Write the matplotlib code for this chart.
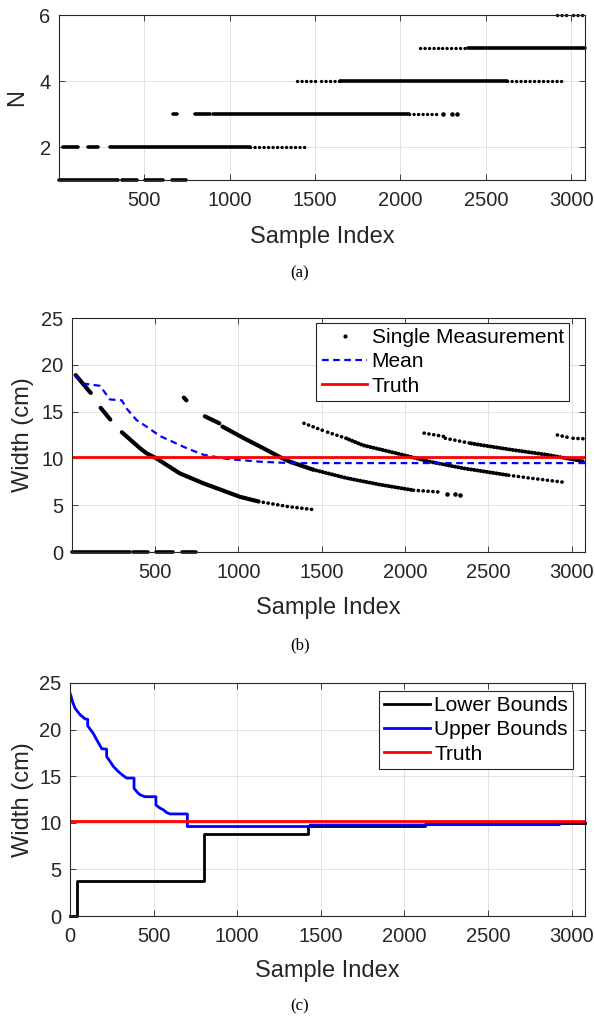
import matplotlib
matplotlib.use('Agg')
import matplotlib.pyplot as plt
from matplotlib.lines import Line2D

plt.rcParams['font.family'] = ['Liberation Sans', 'DejaVu Sans']

# ---------------- data ----------------
x_ticks_ab = [500, 1000, 1500, 2000, 2500, 3000]
x_ticks_c = [0, 500, 1000, 1500, 2000, 2500, 3000]
n_ticks = [2, 4, 6]
w_ticks = [0, 5, 10, 15, 20, 25]
truth_width = 10.15

# Panel (a): sample-index ranges where each count N was reported
n_dense = {
    1: [(1, 348), (368, 459), (504, 608), (660, 744)],
    2: [(23, 114), (173, 231), (300, 1120)],
    3: [(670, 690), (797, 885), (904, 2050)],
    4: [(1646, 2622)],
    5: [(2397, 3080)],
}
n_sparse = {
    2: [(1120, 1441)],
    3: [(2050, 2212)],
    4: [(1393, 1519), (1535, 1646), (2622, 2953)],
    5: [(2114, 2231), (2241, 2397)],
    6: [(2914, 2976), (3008, 3070)],
}
n3_isolated_x = [2251, 2300, 2329]

# Panel (b): single-measurement width tracks (x, y)
w_dense = [
    ([23, 108, 114], [18.9, 17.1, 17.0]),
    ([173, 224, 231], [15.4, 14.3, 14.15]),
    ([300, 408, 448, 508, 648, 788, 1008, 1120], [12.8, 11.1, 10.55, 10.0, 8.4, 7.35, 5.9, 5.4]),
    ([672, 688], [16.5, 16.2]),
    ([798, 868, 885], [14.5, 13.9, 13.75]),
    ([904, 1028, 1148, 1248, 1308, 1448], [13.4, 12.2, 11.1, 10.15, 9.65, 8.8]),
]
w_medium = [
    ([1448, 1648, 1848, 2050], [8.8, 7.9, 7.2, 6.6]),
    ([1646, 1748, 1948, 2148, 2348, 2548, 2622], [12.15, 11.4, 10.55, 9.65, 8.95, 8.4, 8.2]),
    ([2397, 2448, 2648, 2848, 3080], [11.6, 11.45, 10.9, 10.4, 9.65]),
]
w_sparse = [
    ([1120, 1298, 1441], [5.4, 4.85, 4.55]),
    ([2050, 2212], [6.6, 6.4]),
    ([1393, 1519], [13.75, 12.9]),
    ([1535, 1646], [12.8, 12.15]),
    ([2622, 2748, 2953], [8.2, 7.9, 7.45]),
    ([2114, 2231], [12.7, 12.35]),
    ([2241, 2397], [12.15, 11.6]),
    ([2914, 2976], [12.5, 12.25]),
    ([3008, 3070], [12.15, 12.1]),
]
w_isolated_x = [2251, 2300, 2329]
w_isolated_y = [6.25, 6.15, 6.1]

mean_x = [20, 68, 170, 228, 300, 330, 388, 448, 528, 688, 788, 928, 1128, 1308, 3080]
mean_y = [18.9, 18.0, 17.75, 16.3, 16.2, 15.3, 14.1, 13.4, 12.4, 11.1, 10.4, 9.95, 9.65, 9.5, 9.5]

# Panel (c): bounds
upper_x = [0, 6, 15, 30, 60, 90, 106, 106, 139, 160, 179, 190, 219, 219, 235, 259, 289, 319, 339,
           383, 383, 403, 419, 449, 514, 514, 538, 558, 578, 598, 702, 702, 1436, 1436,
           2133, 2133, 2931, 2931, 3080]
upper_y = [23.9, 23.6, 23.0, 22.3, 21.6, 21.15, 21.1, 20.4, 19.6, 18.9, 18.3, 17.95, 17.9, 17.1, 16.7,
           16.05, 15.5, 15.05, 14.8, 14.8, 13.7, 13.26, 13.0, 12.8, 12.8, 11.9, 11.58, 11.4, 11.1,
           10.95, 10.95, 9.6, 9.6, 9.75, 9.75, 9.88, 9.88, 10.0, 10.0]
lower_x = [0, 40, 801, 1425, 2125, 2925, 3080]
lower_y = [0, 3.8, 8.8, 9.7, 9.85, 9.95, 9.95]

# ---------------- style ----------------
W, H = 595, 1023
TXT = '#262626'
GRID = '#e2e2e2'
fig = plt.figure(figsize=(W / 100, H / 100), dpi=100)


def rect(l, t, r, b):
    return [l / W, 1 - b / H, (r - l) / W, (b - t) / H]


def style(ax):
    for s in ax.spines.values():
        s.set_color(TXT)
        s.set_linewidth(0.8)
    ax.tick_params(direction='in', top=True, right=True, length=4, width=0.6,
                   colors=TXT, labelsize=14.5)
    ax.tick_params(axis='x', pad=8)
    ax.tick_params(axis='y', pad=6)
    ax.grid(True, color=GRID, lw=0.7)
    ax.set_axisbelow(True)


def fx(px):
    return px / W


def fy(py):
    return 1 - py / H


LBL = 17
CAP = 12
DOT_LW = 2.6
SPARSE = (0, (0.05, 1.3))
MEDIUM = (0, (0.05, 0.75))
SERIF = ['Liberation Serif', 'DejaVu Serif']

# ---------------- (a) ----------------
ax1 = fig.add_axes(rect(59, 15, 585, 180))
for n, segs in n_dense.items():
    for s, e in segs:
        ax1.plot([s, e], [n, n], color='k', lw=DOT_LW, solid_capstyle='round', clip_on=False)
for n, segs in n_sparse.items():
    for s, e in segs:
        ax1.plot([s, e], [n, n], color='k', lw=2.4, ls=SPARSE, dash_capstyle='round', clip_on=False)
ax1.plot(n3_isolated_x, [3] * len(n3_isolated_x), 'k.', ms=4.5, ls='none')
ax1.set_xlim(1, 3080)
ax1.set_ylim(1, 6)
ax1.set_xticks(x_ticks_ab)
ax1.set_yticks(n_ticks)
style(ax1)
fig.text(fx(17.5), fy(98), 'N', rotation=90, ha='center', va='center', fontsize=LBL, color=TXT)
fig.text(fx(322), fy(243), 'Sample Index', ha='center', va='baseline', fontsize=LBL, color=TXT)
fig.text(fx(300), fy(273), '(a)', ha='center', va='center', fontsize=CAP, family=SERIF)

# ---------------- (b) ----------------
ax2 = fig.add_axes(rect(72, 318, 585, 552))
for s, e in n_dense[1]:
    ax2.plot([s, e], [0, 0], color='k', lw=DOT_LW, solid_capstyle='round', clip_on=False)
for xs, ys in w_dense:
    ax2.plot(xs, ys, color='k', lw=3.0, solid_capstyle='round')
for xs, ys in w_medium:
    ax2.plot(xs, ys, color='k', lw=2.9, ls=MEDIUM, dash_capstyle='round')
for xs, ys in w_sparse:
    ax2.plot(xs, ys, color='k', lw=2.6, ls=SPARSE, dash_capstyle='round')
ax2.plot(w_isolated_x, w_isolated_y, 'k.', ms=4.5, ls='none')
ax2.plot(mean_x, mean_y, color='#0000ff', lw=1.6, dashes=(3.0, 2.0))
ax2.axhline(truth_width, color='#ff0000', lw=2.0)
ax2.set_xlim(1, 3080)
ax2.set_ylim(0, 25)
ax2.set_xticks(x_ticks_ab)
ax2.set_yticks(w_ticks)
style(ax2)
hb = [Line2D([], [], color='k', marker='.', ms=4, ls='none'),
      Line2D([], [], color='#0000ff', lw=1.6, dashes=(3.0, 2.0)),
      Line2D([], [], color='#ff0000', lw=2.0)]
leg = ax2.legend(hb, ['Single Measurement', 'Mean', 'Truth'], loc='upper right',
                 bbox_to_anchor=((569 - 72) / 513, 1 - (323 - 318) / 234), borderaxespad=0,
                 fontsize=15, fancybox=False, framealpha=1, edgecolor=TXT,
                 handlelength=2.2, handletextpad=0.2, labelspacing=0.25, borderpad=0.25)
leg.get_frame().set_linewidth(0.8)
fig.text(fx(23), fy(435), 'Width (cm)', rotation=90, ha='center', va='center', fontsize=LBL, color=TXT)
fig.text(fx(328), fy(614), 'Sample Index', ha='center', va='baseline', fontsize=LBL, color=TXT)
fig.text(fx(300), fy(645), '(b)', ha='center', va='center', fontsize=CAP, family=SERIF)

# ---------------- (c) ----------------
ax3 = fig.add_axes(rect(70, 683, 585, 916))
ax3.plot(lower_x, lower_y, color='k', lw=2.0, drawstyle='steps-post', clip_on=False, label='Lower Bounds')
ax3.plot(upper_x, upper_y, color='#0000ff', lw=2.0, label='Upper Bounds')
ax3.axhline(truth_width, color='#ff0000', lw=2.0, label='Truth')
ax3.set_xlim(0, 3080)
ax3.set_ylim(0, 25)
ax3.set_xticks(x_ticks_c)
ax3.set_yticks(w_ticks)
style(ax3)
leg3 = ax3.legend(loc='upper right',
                  bbox_to_anchor=((573 - 70) / 515, 1 - (691 - 683) / 233), borderaxespad=0,
                  fontsize=15, fancybox=False, framealpha=1, edgecolor=TXT,
                  handlelength=2.2, handletextpad=0.2, labelspacing=0.25, borderpad=0.25)
leg3.get_frame().set_linewidth(0.8)
fig.text(fx(22.5), fy(800), 'Width (cm)', rotation=90, ha='center', va='center', fontsize=LBL, color=TXT)
fig.text(fx(327), fy(977), 'Sample Index', ha='center', va='baseline', fontsize=LBL, color=TXT)
fig.text(fx(300), fy(1006), '(c)', ha='center', va='center', fontsize=CAP, family=SERIF)

fig.savefig('out.png', dpi=100)
